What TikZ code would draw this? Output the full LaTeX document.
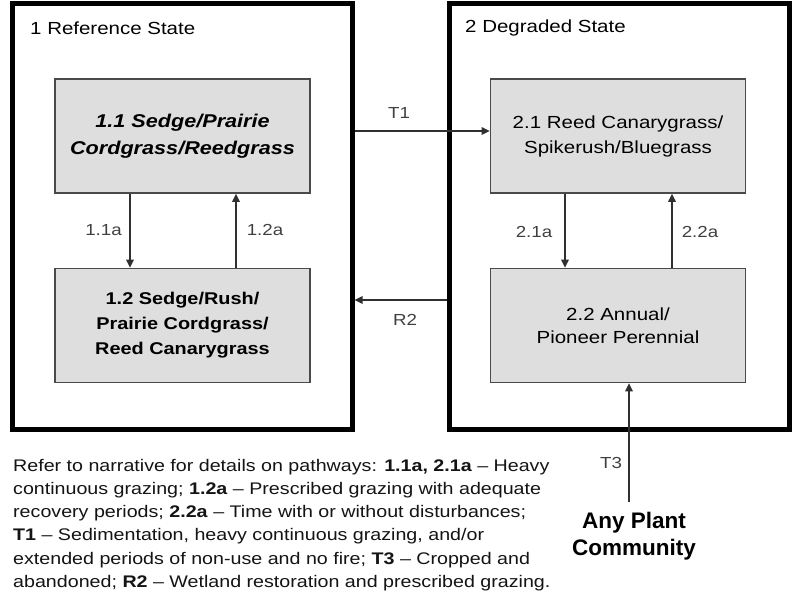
\documentclass[tikz,border=0pt]{standalone}
\usepackage{fontspec}
\setmainfont{Liberation Sans}[FakeStretch=1.17]
\newfontfamily\plainsans{Liberation Sans}
\usetikzlibrary{arrows.meta}
\definecolor{boxfill}{HTML}{DEDEDE}
\definecolor{boxline}{HTML}{4A4A4A}
\definecolor{conn}{HTML}{303030}
\definecolor{lbl}{HTML}{404040}
\definecolor{txt}{HTML}{141414}
\begin{document}
\begin{tikzpicture}[x=1pt,y=-1pt,
  statebox/.style={draw=black,line width=5pt,minimum width=340pt,minimum height=425pt,inner sep=0pt},
  community/.style={draw=boxline,line width=1.6pt,fill=boxfill,minimum width=255pt,minimum height=114pt,align=center,inner sep=0pt},
  arr/.style={draw=conn,line width=1.5pt,-{Triangle[length=8pt,width=7.5pt]}},
  lab/.style={text=lbl,font=\fontsize{16}{18}\selectfont,inner sep=0pt},
  statetitle/.style={anchor=west,font=\fontsize{17.5}{20}\selectfont,inner sep=0pt},
]
\useasboundingbox (0,0) rectangle (800,610);
\fill[white] (0,0) rectangle (800,610);

% state boxes
\node[statebox] (S1) at (182,216.5) {};
\node[statebox] (S2) at (619,216.5) {};
\node[statetitle] (t1) at (30,28) {1 Reference State};
\node[statetitle] (t2) at (465,28) {2 Degraded State};

% community boxes
\node[community,font=\fontsize{18.5}{27}\selectfont\bfseries\itshape] (b11) at (182.5,136) {1.1 Sedge/Prairie\\Cordgrass/Reedgrass};
\node[community,font=\fontsize{17}{25}\selectfont\bfseries] (b12) at (182.5,325.5) {1.2 Sedge/Rush/\\Prairie Cordgrass/\\Reed Canarygrass};
\node[community,font=\fontsize{17.5}{25}\selectfont] (b21) at (618,136) {2.1 Reed Canarygrass/\\Spikerush/Bluegrass};
\node[community,font=\fontsize{17.5}{23}\selectfont] (b22) at (618,325.5) {2.2 Annual/\\Pioneer Perennial};

% pathways within states
\draw[arr] ([xshift=-52.5pt]b11.south) -- ([xshift=-52.5pt]b12.north);
\draw[arr] ([xshift=53.5pt]b12.north) -- ([xshift=53.5pt]b11.south);
\draw[arr] ([xshift=-53pt]b21.south) -- ([xshift=-53pt]b22.north);
\draw[arr] ([xshift=54pt]b22.north) -- ([xshift=54pt]b21.south);
\node[lab] (l11) at (103.5,230) {1.1a};
\node[lab] (l12) at (265,230) {1.2a};
\node[lab] (l21) at (534,232) {2.1a};
\node[lab] (l22) at (700,232) {2.2a};

% transitions
\coordinate (t1end) at ([yshift=5pt]b21.west);
\draw[arr] (t1end -| S1.east) -- (t1end);
\node[lab] (lt1) at (399,113) {T1};
\coordinate (r2ref) at (400,300);
\draw[arr] (r2ref -| S2.west) -- (r2ref -| S1.east);
\node[lab] (lr2) at (405,320) {R2};
\coordinate (t3foot) at (629,502);
\draw[arr] (t3foot) -- (t3foot |- b22.south);
\node[lab] (lt3) at (611,463) {T3};

\node[font=\plainsans\bfseries\fontsize{22.5}{27}\selectfont,align=center,inner sep=0pt] (apc) at (634,536.5) {Any Plant\\Community};

\node[anchor=north west,align=left,inner sep=0pt,text=txt,font=\fontsize{16.8}{23.2}\selectfont] (notes) at (13,459) {Refer to narrative for details on pathways: \textbf{1.1a, 2.1a} – Heavy\\continuous grazing; \textbf{1.2a} – Prescribed grazing with adequate\\recovery periods; \textbf{2.2a} – Time with or without disturbances;\\\textbf{T1} – Sedimentation, heavy continuous grazing, and/or\\extended periods of non-use and no fire; \textbf{T3} – Cropped and\\abandoned; \textbf{R2} – Wetland restoration and prescribed grazing.};
\end{tikzpicture}
\end{document}
